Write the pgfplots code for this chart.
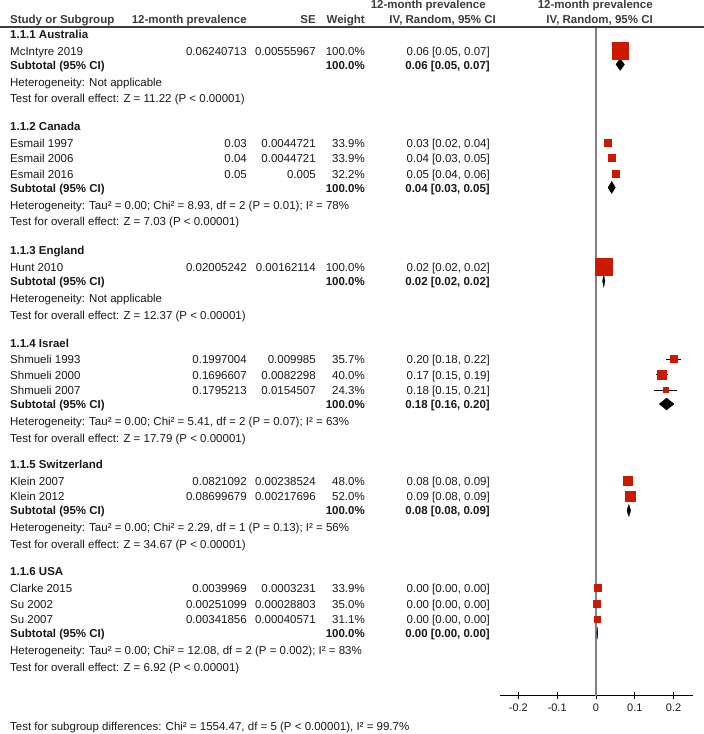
\documentclass[border=0pt]{standalone}
\usepackage{fontspec}
\setmainfont{Liberation Sans}
\usepackage{pgfplots}
\usepackage{pgfplotstable}
\pgfplotsset{compat=1.18}
\definecolor{sq}{RGB}{204,26,0}
\definecolor{zl}{RGB}{128,128,128}
\definecolor{txt}{RGB}{25,25,25}
\definecolor{hdr}{RGB}{60,60,60}

\pgfplotstableread{
x          y       e       s
0.0624     -50.5   0.0109  8.5
0.0300     -142.5  0.0088  3.6
0.0400     -158.0  0.0088  3.6
0.0500     -173.5  0.0098  3.5
0.0201     -267.0  0.0032  8.5
0.1997     -359.0  0.0196  3.7
0.1697     -374.5  0.0161  4.3
0.1795     -390.0  0.0303  2.7
0.0821     -480.5  0.0047  4.6
0.0870     -496.0  0.0043  5.0
0.0040     -588.0  0.0006  3.4
0.0025     -603.5  0.0006  3.5
0.0034     -619.0  0.0008  3.2
}\studies

\newcommand{\Lt}[3]{\node[anchor=base west,inner sep=0pt] at (#1,#2) {#3};}
\newcommand{\Rt}[3]{\node[anchor=base east,inner sep=0pt] at (#1,#2) {#3};}
\newcommand{\Row}[6]{\Lt{10}{#1}{#2}\Rt{247}{#1}{#3}\Rt{316}{#1}{#4}\Rt{365}{#1}{#5}\Rt{490}{#1}{#6}}
\newcommand{\Sub}[2]{\Lt{10}{#1}{\bfseries Subtotal (95\% CI)}\Rt{365}{#1}{\bfseries 100.0\%}\Rt{490}{#1}{\bfseries #2}}

\begin{document}
\begin{tikzpicture}
\useasboundingbox (-500bp,-38.5bp) rectangle (204bp,695.5bp);
\begin{axis}[
  scale only axis, width=193bp, height=668.5bp,
  xmin=-0.2474, xmax=0.25, ymin=-695.5, ymax=-27,
  axis x line=bottom, axis y line=none,
  axis line style={-, black, line width=0.8bp},
  xtick={-0.2,-0.1,0,0.1,0.2},
  xticklabels={-0.2,-0.1,0,0.1,0.2},
  tick align=center, major tick length=7bp,
  tick style={black, line width=0.8bp},
  xticklabel style={font=\fontsize{11}{13}\selectfont, text=txt, yshift=-1bp},
  /pgf/number format/assume math mode=true,
  clip=false,
]
\addplot[zl, line width=1.6bp] coordinates {(0,-27) (0,-695.5)};
% confidence intervals
\addplot[draw=none, mark=none, forget plot,
  error bars/.cd, x dir=both, x explicit, error mark=none,
  error bar style={black, line width=0.8bp}]
  table[x=x, y=y, x error=e] {\studies};
% study squares
\addplot[scatter, only marks, mark=square*,
  scatter/use mapped color={draw=sq, fill=sq},
  visualization depends on={\thisrow{s} \as \msz},
  scatter/@pre marker code/.append style={/tikz/mark size=\msz}]
  table[x=x, y=y] {\studies};
% subtotal diamonds
\addplot[fill=black, draw=black, line width=0.3bp] coordinates {(0.0515,-64.5) (0.0624,-58.5) (0.0733,-64.5) (0.0624,-70.5)} --cycle;
\addplot[fill=black, draw=black, line width=0.3bp] coordinates {(0.0310,-187.5) (0.0405,-181.5) (0.0500,-187.5) (0.0405,-193.5)} --cycle;
\addplot[fill=black, draw=black, line width=0.3bp] coordinates {(0.0169,-281) (0.0201,-275) (0.0232,-281) (0.0201,-287)} --cycle;
\addplot[fill=black, draw=black, line width=0.3bp] coordinates {(0.1630,-404) (0.1820,-398) (0.2010,-404) (0.1820,-410)} --cycle;
\addplot[fill=black, draw=black, line width=0.3bp] coordinates {(0.0797,-510.5) (0.0847,-504.5) (0.0897,-510.5) (0.0847,-516.5)} --cycle;
\addplot[fill=black, draw=black, line width=0.3bp] coordinates {(0.0022,-633) (0.0033,-627) (0.0044,-633) (0.0033,-639)} --cycle;
\end{axis}

\begin{scope}[x=1bp, y=-1bp, xshift=-500bp, yshift=695.5bp,
  font=\fontsize{11.5bp}{14bp}\selectfont, text=txt]
\draw[hdr, line width=1.2bp] (0,27) -- (704,27);
% header
\begin{scope}[text=hdr, font=\fontsize{11.5bp}{14bp}\selectfont\bfseries]
\Rt{486}{9}{12-month prevalence}
\Rt{653}{9}{12-month prevalence}
\Lt{10}{24}{Study or Subgroup}
\Rt{247}{24}{12-month prevalence}
\Rt{316}{24}{SE}
\Rt{365}{24}{Weight}
\Rt{496}{24}{IV, Random, 95\% CI}
\Rt{653}{24}{IV, Random, 95\% CI}
\end{scope}
% Australia
\Lt{10}{38.5}{\bfseries 1.1.1 Australia}
\Row{55.5}{McIntyre 2019}{0.06240713}{0.00555967}{100.0\%}{0.06 [0.05, 0.07]}
\Sub{69.5}{0.06 [0.05, 0.07]}
\Lt{10}{86.5}{Heterogeneity: Not applicable}
\Lt{10}{102.5}{Test for overall effect: Z = 11.22 (P < 0.00001)}
% Canada
\Lt{10}{130.5}{\bfseries 1.1.2 Canada}
\Row{147.5}{Esmail 1997}{0.03}{0.0044721}{33.9\%}{0.03 [0.02, 0.04]}
\Row{163}{Esmail 2006}{0.04}{0.0044721}{33.9\%}{0.04 [0.03, 0.05]}
\Row{178.5}{Esmail 2016}{0.05}{0.005}{32.2\%}{0.05 [0.04, 0.06]}
\Sub{192.5}{0.04 [0.03, 0.05]}
\Lt{10}{209.5}{Heterogeneity: Tau² = 0.00; Chi² = 8.93, df = 2 (P = 0.01); I² = 78\%}
\Lt{10}{226}{Test for overall effect: Z = 7.03 (P < 0.00001)}
% England
\Lt{10}{255}{\bfseries 1.1.3 England}
\Row{272}{Hunt 2010}{0.02005242}{0.00162114}{100.0\%}{0.02 [0.02, 0.02]}
\Sub{286}{0.02 [0.02, 0.02]}
\Lt{10}{303}{Heterogeneity: Not applicable}
\Lt{10}{319.5}{Test for overall effect: Z = 12.37 (P < 0.00001)}
% Israel
\Lt{10}{347.5}{\bfseries 1.1.4 Israel}
\Row{364}{Shmueli 1993}{0.1997004}{0.009985}{35.7\%}{0.20 [0.18, 0.22]}
\Row{379.5}{Shmueli 2000}{0.1696607}{0.0082298}{40.0\%}{0.17 [0.15, 0.19]}
\Row{395}{Shmueli 2007}{0.1795213}{0.0154507}{24.3\%}{0.18 [0.15, 0.21]}
\Sub{409}{0.18 [0.16, 0.20]}
\Lt{10}{426}{Heterogeneity: Tau² = 0.00; Chi² = 5.41, df = 2 (P = 0.07); I² = 63\%}
\Lt{10}{442.5}{Test for overall effect: Z = 17.79 (P < 0.00001)}
% Switzerland
\Lt{10}{469}{\bfseries 1.1.5 Switzerland}
\Row{485.5}{Klein 2007}{0.0821092}{0.00238524}{48.0\%}{0.08 [0.08, 0.09]}
\Row{501}{Klein 2012}{0.08699679}{0.00217696}{52.0\%}{0.09 [0.08, 0.09]}
\Sub{515}{0.08 [0.08, 0.09]}
\Lt{10}{532}{Heterogeneity: Tau² = 0.00; Chi² = 2.29, df = 1 (P = 0.13); I² = 56\%}
\Lt{10}{548.5}{Test for overall effect: Z = 34.67 (P < 0.00001)}
% USA
\Lt{10}{576}{\bfseries 1.1.6 USA}
\Row{593}{Clarke 2015}{0.0039969}{0.0003231}{33.9\%}{0.00 [0.00, 0.00]}
\Row{608.5}{Su 2002}{0.00251099}{0.00028803}{35.0\%}{0.00 [0.00, 0.00]}
\Row{624}{Su 2007}{0.00341856}{0.00040571}{31.1\%}{0.00 [0.00, 0.00]}
\Sub{638}{0.00 [0.00, 0.00]}
\Lt{10}{655}{Heterogeneity: Tau² = 0.00; Chi² = 12.08, df = 2 (P = 0.002); I² = 83\%}
\Lt{10}{671.5}{Test for overall effect: Z = 6.92 (P < 0.00001)}
% bottom
\Lt{10}{731}{Test for subgroup differences: Chi² = 1554.47, df = 5 (P < 0.00001), I² = 99.7\%}
\end{scope}
\end{tikzpicture}
\end{document}
